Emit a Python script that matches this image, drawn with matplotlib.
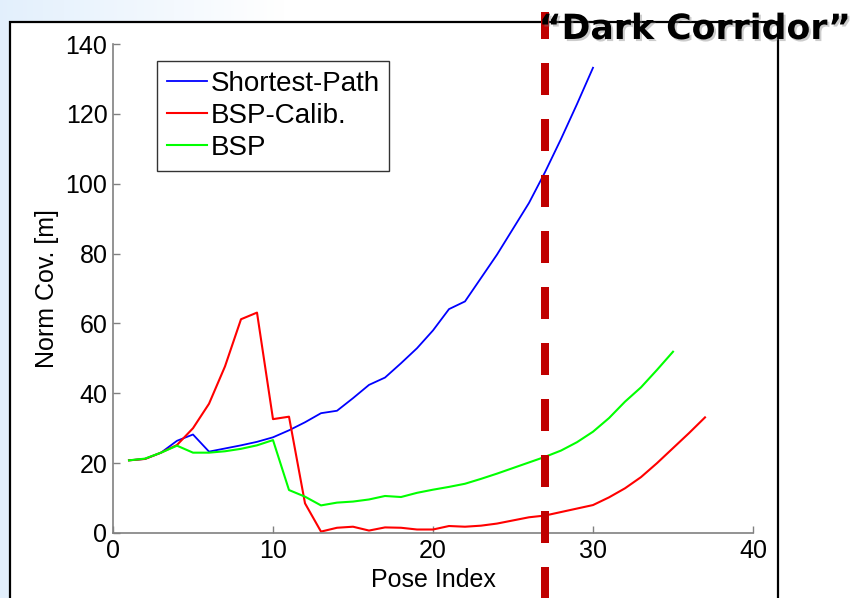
import matplotlib
matplotlib.use("Agg")
import matplotlib.pyplot as plt
import matplotlib.patheffects as pe
import numpy as np
from matplotlib.patches import Rectangle

# data
sp_x = list(range(1, 31))
sp_y = [20.8, 21.2, 23.0, 26.4, 28.2, 23.3, 24.2, 25.1, 26.1, 27.4,
        29.4, 31.7, 34.3, 35.0, 38.6, 42.4, 44.5, 48.6, 52.9, 58.0,
        64.1, 66.3, 73.0, 79.7, 87.1, 94.5, 103.3, 112.8, 122.8, 133.2]

calib_x = list(range(1, 38))
calib_y = [20.8, 21.2, 23.0, 25.2, 30.0, 37.0, 47.7, 61.2, 63.1, 32.6,
           33.3, 8.5, 0.4, 1.5, 1.8, 0.7, 1.6, 1.5, 1.0, 1.0,
           2.0, 1.8, 2.1, 2.7, 3.6, 4.5, 5.0, 6.0, 7.0, 8.0,
           10.2, 12.8, 16.0, 20.0, 24.3, 28.6, 33.1]

bsp_x = list(range(1, 36))
bsp_y = [20.8, 21.3, 23.0, 25.0, 23.0, 23.0, 23.4, 24.1, 25.1, 26.6,
         12.3, 10.4, 7.9, 8.7, 9.0, 9.6, 10.6, 10.3, 11.5, 12.4,
         13.2, 14.1, 15.5, 17.0, 18.6, 20.2, 21.8, 23.6, 26.0, 29.0,
         32.9, 37.6, 41.7, 46.7, 51.9]

corridor_x = 27
x_ticks = [0, 10, 20, 30, 40]
y_ticks = [0, 20, 40, 60, 80, 100, 120, 140]

plt.rcParams["font.family"] = ["Liberation Sans", "DejaVu Sans"]

W, H = 855, 598
fig = plt.figure(figsize=(W / 100, H / 100), dpi=100)

# slide background: light blue fading to white, framed white panel
bg = fig.add_axes([0, 0, 1, 1], zorder=-10)
grad = np.clip(np.linspace(0, 1, 256) * 3, 0, 1)
img = np.ones((1, 256, 3))
base = np.array([0.89, 0.94, 0.99])
img[0] = base + (1 - base) * grad[:, None]
bg.imshow(img, aspect="auto", extent=[0, 1, 0, 1])
bg.add_patch(Rectangle((10 / W, -0.01), (778 - 10) / W, (H - 22) / H + 0.01,
                       transform=bg.transAxes, facecolor="white",
                       edgecolor="black", linewidth=1.6))
bg.set_xlim(0, 1)
bg.set_ylim(0, 1)
bg.axis("off")

ax = fig.add_axes([113 / W, 65 / H, 640 / W, 489 / H])
ax.patch.set_alpha(0)

ax.plot(sp_x, sp_y, color=(0, 0, 1), linewidth=1.3, label="Shortest-Path")
ax.plot(calib_x, calib_y, color=(1, 0, 0), linewidth=1.5, label="BSP-Calib.")
ax.plot(bsp_x, bsp_y, color=(0, 1, 0), linewidth=1.5, label="BSP")

ax.set_xlim(0, 40)
ax.set_ylim(0, 140)
ax.set_xticks(x_ticks)
ax.set_yticks(y_ticks)
ax.spines["top"].set_visible(False)
ax.spines["right"].set_visible(False)
for s in ("left", "bottom"):
    ax.spines[s].set_color("#808080")
    ax.spines[s].set_linewidth(1.2)
ax.tick_params(direction="in", length=5, width=1.0, color="#808080",
               labelsize=18, pad=4)
ax.set_xlabel("Pose Index", fontsize=18, labelpad=4)
ax.set_ylabel("Norm Cov. [m]", fontsize=18, labelpad=5)

leg = ax.legend(loc="upper left", bbox_to_anchor=(0.069, 0.965), fontsize=20,
                frameon=True, fancybox=False, framealpha=1, handlelength=1.45,
                handletextpad=0.12, labelspacing=0.22, borderpad=0.35,
                borderaxespad=0)
leg.get_frame().set_edgecolor("#333333")
leg.get_frame().set_linewidth(1.0)

# dashed marker for the dark corridor
lw_px = 8
lw_pt = lw_px * 0.72
line = ax.axvline(corridor_x, ymin=(533 - 599) / 489, ymax=(533 - 12) / 489,
                  color="#c00000", linewidth=lw_pt, clip_on=False, zorder=5,
                  solid_capstyle="butt")
line.set_dashes((32 * 0.72 / lw_pt, 24 * 0.72 / lw_pt))
line.set_dash_capstyle("butt")

fig.text(695 / W, (H - 39) / H, "\u201cDark Corridor\u201d", ha="center",
         va="baseline", fontsize=25, fontweight="bold",
         family=["DejaVu Sans"], zorder=10,
         path_effects=[pe.withSimplePatchShadow(offset=(1.5, -1.5),
                                                shadow_rgbFace="gray",
                                                alpha=0.4)])

fig.savefig("out.png", dpi=100)
plt.close(fig)
